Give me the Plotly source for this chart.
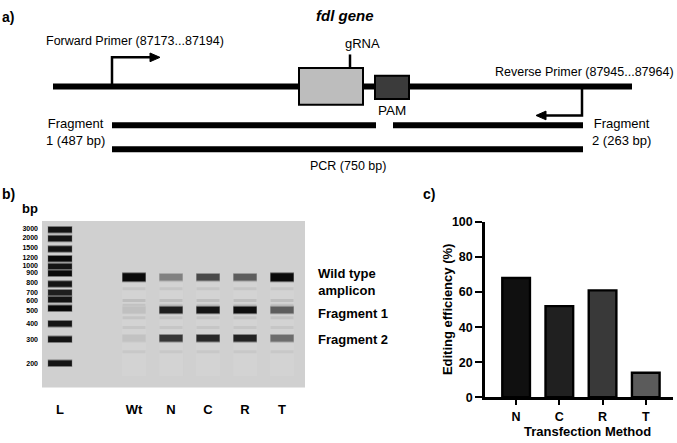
import plotly.graph_objects as go

W, H = 677, 443
FONT = "Liberation Sans"

# ---------------- data ----------------
# panel c: editing efficiency
bar_categories = ["N", "C", "R", "T"]
bar_values = [68, 52, 61, 14]
bar_colors = ["#101010", "#202020", "#393939", "#5b5b5b"]
bar_yticks = [0, 20, 40, 60, 80, 100]

# panel b: gel
lane_labels = ["L", "", "Wt", "N", "C", "R", "T"]
ladder_bp = [3000, 2000, 1500, 1200, 1000, 900, 800, 700, 600, 500, 400, 300, 200]
ladder_mig = [9, 18, 29, 39, 47, 54, 65, 74, 81, 90, 106, 122, 147]          # band migration (gel units)
ladder_label_mig = [8, 17, 27.5, 37.5, 45.5, 53.5, 64, 73.5, 82, 92, 106, 122, 147]  # label positions
ladder_int = [0.95, 0.95, 0.95, 1.0, 0.95, 1.0, 0.95, 0.9, 0.95, 1.0, 0.95, 0.95, 0.95]

sample_lanes = ["Wt", "N", "C", "R", "T"]
band_names = ["Wild type amplicon", "Fragment 1", "Fragment 2"]
band_mig = [58, 92, 121]
band_int = {                      # intensity of each band per lane (Wt, N, C, R, T)
    "Wild type amplicon": [1.0, 0.4, 0.68, 0.58, 1.0],
    "Fragment 1": [0.08, 0.9, 0.95, 0.98, 0.58],
    "Fragment 2": [0.07, 0.78, 0.85, 0.88, 0.5],
}
smear_mig = [70, 82, 87, 100, 110, 135]
smear_int = [0.05, 0.09, 0.07, 0.06, 0.05, 0.04]

# panel a: text
fwd_label = "Forward Primer (87173...87194)"
rev_label = "Reverse Primer (87945...87964)"
frag1_label = "Fragment<br>1 (487 bp)"
frag2_label = "Fragment<br>2 (263 bp)"
pcr_label = "PCR (750 bp)"

# ---------------- figure ----------------
fig = go.Figure()

GEL_BG = 208


def gray(intensity, bg=GEL_BG, dark=10):
    v = int(round(bg - intensity * (bg - dark)))
    return f"rgb({v},{v},{v})"


def band(lane, mig, intensity, half=0.31, width=6.5, halo=True):
    if halo:
        fig.add_trace(go.Scatter(x=[lane - half - 0.01, lane + half + 0.01], y=[mig, mig], mode="lines",
                                 line=dict(color=gray(intensity * 0.45), width=width + 2),
                                 xaxis="x2", yaxis="y2", hoverinfo="skip", showlegend=False))
    fig.add_trace(go.Scatter(x=[lane - half, lane + half], y=[mig, mig], mode="lines",
                             line=dict(color=gray(intensity), width=width),
                             xaxis="x2", yaxis="y2", hoverinfo="skip", showlegend=False))


# lane columns (very slightly lighter)
for name in sample_lanes:
    li = lane_labels.index(name)
    fig.add_trace(go.Scatter(x=[li, li], y=[64, 160], mode="lines",
                             line=dict(color="rgb(211,211,211)", width=24),
                             xaxis="x2", yaxis="y2", hoverinfo="skip", showlegend=False))

# ladder
for bp, mig, it in zip(ladder_bp, ladder_mig, ladder_int):
    band(0, mig, it, half=0.32, width=5.5)

# faint smears
for name in sample_lanes:
    li = lane_labels.index(name)
    for m, it in zip(smear_mig, smear_int):
        band(li, m, it, width=3, halo=False)

# sample bands
for bname, mig in zip(band_names, band_mig):
    for name, it in zip(sample_lanes, band_int[bname]):
        li = lane_labels.index(name)
        w = 8 if (bname == band_names[0] and it > 0.9) else 6.5
        band(li, mig, it, width=w)

# bar chart
fig.add_trace(go.Bar(x=bar_categories, y=bar_values, width=0.64,
                     marker=dict(color=bar_colors, line=dict(color="black", width=2.4)),
                     xaxis="x3", yaxis="y3", showlegend=False, hoverinfo="skip"))

# ---------------- diagram shapes (canvas coords) ----------------
shapes = []
BLACK = "black"
shapes.append(dict(type="rect", xref="x2 domain", yref="y2 domain", x0=0, x1=1, y0=0, y1=1,
                   fillcolor=f"rgb({GEL_BG},{GEL_BG},{GEL_BG})", line=dict(width=0), layer="below"))


def cline(x0, y0, x1, y1, w):
    shapes.append(dict(type="line", xref="x", yref="y", x0=x0, y0=y0, x1=x1, y1=y1,
                       line=dict(color=BLACK, width=w)))


def cpath(p, w=2.5, fill="rgba(0,0,0,0)"):
    shapes.append(dict(type="path", xref="x", yref="y", path=p, fillcolor=fill,
                       line=dict(color=BLACK, width=w)))


cline(53, 82, 632, 82, 6)                    # gene
cpath("M112,84 L112,52 L151,52")             # forward primer arrow
cpath("M150,47.5 L160,52 L150,56.5 Z", w=1, fill=BLACK)
cpath("M582,80 L582,112 L545,112")           # reverse primer arrow
cpath("M546,107.5 L536,112 L546,116.5 Z", w=1, fill=BLACK)
cline(350, 49, 350, 63, 2.5)                 # gRNA stem
shapes.append(dict(type="rect", xref="x", yref="y", x0=299, x1=363, y0=63, y1=101,
                   fillcolor="#bdbdbd", line=dict(color=BLACK, width=2)))
shapes.append(dict(type="rect", xref="x", yref="y", x0=375, x1=409, y0=71, y1=95,
                   fillcolor="#3b3b3b", line=dict(color=BLACK, width=2)))
cline(112, 122, 376, 122, 6)                 # fragment 1
cline(393, 122, 583, 122, 6)                 # fragment 2
cline(112, 147, 583, 147, 6)                 # PCR

# ---------------- annotations ----------------
ann = []


def text(x, y, s, size=13, xanchor="left", yanchor="middle", bold=False, italic=False, angle=0):
    ann.append(dict(x=x, y=y, xref="x", yref="y", text=s, showarrow=False,
                    xanchor=xanchor, yanchor=yanchor, textangle=angle,
                    font=dict(family=FONT, size=size, color="black",
                              weight="bold" if bold else "normal",
                              style="italic" if italic else "normal")))


text(0, 10, "a)", size=14, bold=True)
text(345, 9, "fdl gene", size=15, bold=True, italic=True, xanchor="center")
text(44, 35, fwd_label, size=12.5)
text(362, 38, "gRNA", size=13, xanchor="center")
text(392, 107, "PAM", size=13.5, xanchor="center")
text(676, 67, rev_label, size=12.5, xanchor="right")
text(44, 129, frag1_label, size=13)
text(590, 129, frag2_label, size=13)
text(348, 164, pcr_label, size=12.5, xanchor="center")

text(0, 193, "b)", size=14, bold=True)
text(20, 208, "bp", size=13, bold=True)
text(316, 284, "Wild type<br>amplicon", size=13, bold=True)
text(316, 316, "Fragment 1", size=13, bold=True)
text(316, 343, "Fragment 2", size=13, bold=True)

text(421, 193, "c)", size=14, bold=True)
text(447, 313, "Editing efficiency (%)", size=13, bold=True, xanchor="center", angle=-90)
text(587, 438.5, "Transfection Method", size=13, bold=True, xanchor="center")


# ---------------- layout ----------------
def pd(px_top, px_bottom):
    return [1 - px_bottom / H, 1 - px_top / H]


fig.update_layout(
    width=W, height=H, autosize=False,
    margin=dict(l=0, r=0, t=0, b=0),
    paper_bgcolor="white", plot_bgcolor="rgba(0,0,0,0)",
    showlegend=False,
    font=dict(family=FONT, color="black"),
    shapes=shapes, annotations=ann,
    xaxis=dict(domain=[0, 1], range=[0, W], visible=False, fixedrange=True),
    yaxis=dict(domain=[0, 1], range=[H, 0], visible=False, fixedrange=True),
    xaxis2=dict(domain=[42 / W, 305 / W], range=[-0.486, 6.62], anchor="y2",
                tickvals=list(range(len(lane_labels))), ticktext=lane_labels,
                showgrid=False, zeroline=False, showline=False, ticks="",
                ticklabelstandoff=12,
                tickfont=dict(family=FONT, size=13, weight="bold", color="black")),
    yaxis2=dict(domain=pd(221, 393), range=[172, 0], anchor="x2",
                tickvals=ladder_label_mig, ticktext=[str(v) for v in ladder_bp],
                showgrid=False, zeroline=False, showline=False, ticks="",
                ticklabelstandoff=3,
                tickfont=dict(family=FONT, size=7, weight="bold", color="black")),
    xaxis3=dict(domain=[485 / W, 673 / W], range=[-0.72, 3.63], anchor="y3",
                showline=True, linewidth=2.5, linecolor="black",
                ticks="outside", ticklen=5, tickwidth=2, tickcolor="black",
                ticklabelstandoff=1,
                showgrid=False, zeroline=False,
                tickfont=dict(family=FONT, size=12.5, weight="bold", color="black")),
    yaxis3=dict(domain=pd(222, 403), range=[0, 100], anchor="x3",
                showline=True, linewidth=2.5, linecolor="black",
                ticks="outside", ticklen=7, tickwidth=2, tickcolor="black",
                tickvals=bar_yticks, showgrid=False, zeroline=False,
                tickfont=dict(family=FONT, size=12.5, weight="bold", color="black")),
)

fig.write_html("out.html", config={"displayModeBar": False},
               post_script="document.body.style.margin='0';document.body.style.padding='0';")
